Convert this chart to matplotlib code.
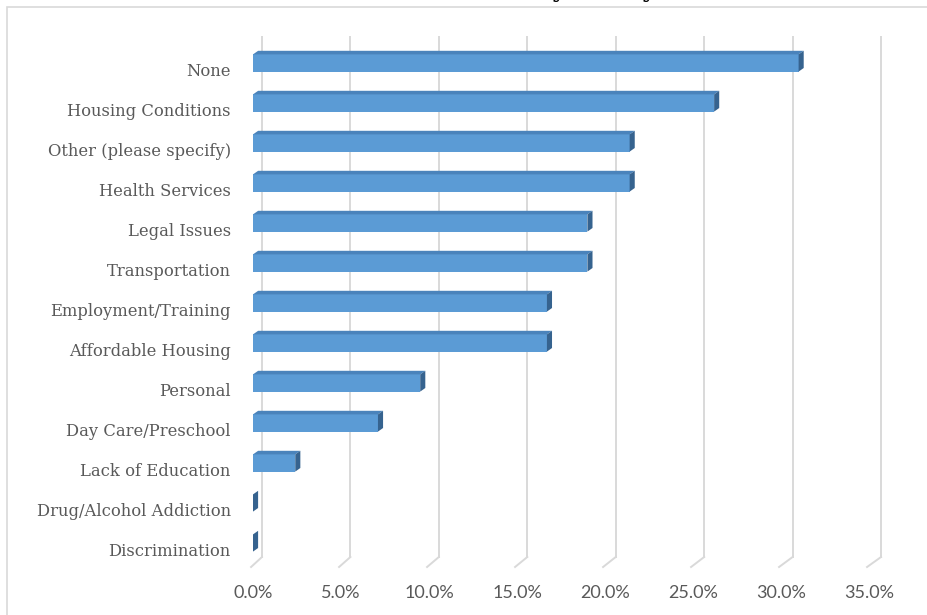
import numpy as np
import matplotlib
matplotlib.use("Agg")
import matplotlib.pyplot as plt
from matplotlib.patches import Polygon, Rectangle
from matplotlib.transforms import ScaledTranslation

# survey answers (share of respondents)
categories = ["None", "Housing Conditions", "Other (please specify)", "Health Services",
              "Legal Issues", "Transportation", "Employment/Training", "Affordable Housing",
              "Personal", "Day Care/Preschool", "Lack of Education",
              "Drug/Alcohol Addiction", "Discrimination"]
values = [31.0, 26.2, 21.4, 21.4, 19.0, 19.0, 16.7, 16.7, 9.5, 7.1, 2.4, 0.0, 0.0]
xticks = [0, 5, 10, 15, 20, 25, 30, 35]
title = "Barriers Identified by Family"

front_c = "#5b9bd5"
top_c = "#4a83bb"
side_c = "#36638f"
grid_c = "#d9d9d9"
label_c = "#595959"

fig = plt.figure(figsize=(9.28, 6.15), dpi=100)
W, H = 928, 615
# axes box in pixels: x 253..869 -> 0..35 %, rows centred at 63 + 40*i
ax = fig.add_axes([253 / W, 1 - 563 / H, 616 / W, 520 / H])
n = len(categories)
ax.set_xlim(0, 35)
ax.set_ylim(12.5, -0.5)
for s in ax.spines.values():
    s.set_visible(False)

# back wall gridlines + floor slants (slight perspective)
dx, dy = 0.29, 0.09     # bar depth offset in data units
h = 0.43
for t in xticks:
    xb = t * 1.005 + 0.51
    xf = t - 0.11
    ax.plot([xb, xb], [-0.65, 12.35], color=grid_c, lw=1.4, zorder=1, clip_on=False)
    ax.plot([xb, xf], [12.35, 12.6], color=grid_c, lw=1.4, zorder=1, clip_on=False)

for i, v in enumerate(values):
    y0, y1 = i - h / 2, i + h / 2
    ax.add_patch(Polygon([(0, y0), (v, y0), (v, y1), (0, y1)], closed=True,
                         facecolor=front_c, edgecolor="none", zorder=3))
    ax.add_patch(Polygon([(0, y0), (v, y0), (v + dx, y0 - dy), (dx, y0 - dy)], closed=True,
                         facecolor=top_c, edgecolor="none", zorder=3))
    ax.add_patch(Polygon([(v, y0), (v + dx, y0 - dy), (v + dx, y1 - dy), (v, y1)], closed=True,
                         facecolor=side_c, edgecolor="none", zorder=4))

ax.set_yticks(range(n))
ax.set_yticklabels(categories, fontfamily="DejaVu Serif", fontsize=11.8, color=label_c)
ax.set_xticks(xticks)
ax.set_xticklabels([f"{t:.1f}%" for t in xticks], fontfamily="Lato", fontsize=13, color=label_c)
ax.tick_params(axis="y", length=0, pad=16)
ax.tick_params(axis="x", length=0, pad=16)
for lab in ax.get_yticklabels():
    lab.set_transform(lab.get_transform() + ScaledTranslation(0, -6 / 100, fig.dpi_scale_trans))

# chart area border
fig.patches.append(Rectangle((7 / W, -0.1), 1.2, 1 - 7 / H + 0.1, transform=fig.transFigure,
                             facecolor="none", edgecolor=grid_c, lw=1.2))
# title sits mostly above the visible area, only descenders show
fig.text(655 / W, 1 + 2.5 / H, title, ha="right", va="baseline", fontsize=16,
         fontweight="bold", fontfamily="DejaVu Serif", color="black")

fig.savefig("out.png", dpi=100)
